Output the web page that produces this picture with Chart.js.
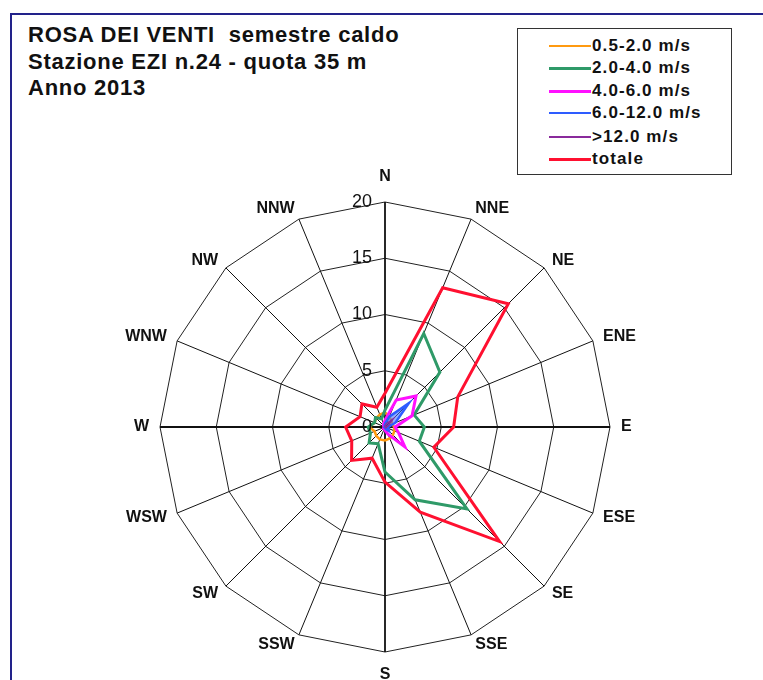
<!DOCTYPE html>
<html>
<head>
<meta charset="utf-8" />
<title>Rosa dei venti</title>
<script src="https://cdn.jsdelivr.net/npm/chart.js@4/dist/chart.umd.min.js"></script>
<style>
  body { margin: 0; background: #fff; font-family: "Liberation Sans", Arial, sans-serif; }
  #wrap { position: relative; width: 763px; height: 680px; overflow: hidden; }
  #frame { position: absolute; left: 10px; top: 13px; width: 800px; height: 720px; border: 2px solid #22228a; }
  #title { position: absolute; left: 28px; top: 22px; font-weight: bold; font-size: 22px; line-height: 26.7px; letter-spacing: 0.75px; color: #111; }
  #legend { position: absolute; left: 517px; top: 28px; width: 215px; height: 147px; border: 1.5px solid #333; box-sizing: border-box; }
  .row { position: absolute; left: 0; height: 22px; font-weight: bold; font-size: 17px; letter-spacing: 1.1px; color: #111; }
  .row span.ln { position: absolute; left: 31px; width: 42px; }
  .row span.tx { position: absolute; left: 74px; top: 0; white-space: nowrap; line-height: 22px; }
  canvas { position: absolute; left: 0; top: 0; }
</style>
</head>
<body>
<div id="wrap">
  <div id="frame"></div>
  <div id="title">ROSA DEI VENTI&nbsp; semestre caldo<br>Stazione EZI n.24 - quota 35 m<br>Anno 2013</div>
  <div id="legend"></div>
  <canvas id="rose" width="763" height="680"></canvas>
</div>
<script>
// directions, clockwise from north
const directions = ['N', 'NNE', 'NE', 'ENE', 'E', 'ESE', 'SE', 'SSE', 'S', 'SSW', 'SW', 'WSW', 'W', 'WNW', 'NW', 'NNW'];

// frequency (%) per speed class
const v05_2  = [1.3, 1.0, 0.8, 0.7, 0.8, 0.9, 1.0, 1.1, 1.2, 1.2, 1.1, 1.0, 1.4, 1.0, 1.1, 1.2];
const v2_4   = [1.5, 9.0, 6.9, 2.8, 3.5, 3.3, 10.3, 7.0, 4.0, 1.6, 2.0, 1.4, 1.5, 1.0, 1.2, 0.8];
const v4_6   = [0.6, 2.6, 3.9, 2.6, 0.9, 1.3, 2.5, 0.7, 0.3, 0.2, 0.2, 0.1, 0.1, 0.1, 0.2, 0.3];
const v6_12  = [0.3, 1.0, 3.0, 1.0, 0.3, 0.3, 0.5, 0.2, 0.1, 0.05, 0.05, 0, 0, 0, 0.05, 0.1];
const v12    = [0.1, 0.3, 1.0, 0.3, 0.1, 0.1, 0.1, 0, 0, 0, 0, 0, 0, 0, 0, 0];
const totale = [3.0, 13.4, 15.5, 7.0, 6.1, 4.7, 14.4, 8.2, 4.9, 3.0, 4.2, 3.2, 3.5, 2.4, 2.9, 1.9];

const radialTicks = [0, 5, 10, 15, 20];

const seriesNames  = ['0.5-2.0 m/s', '2.0-4.0 m/s', '4.0-6.0 m/s', '6.0-12.0 m/s', '>12.0 m/s', 'totale'];
const seriesData   = [v05_2, v2_4, v4_6, v6_12, v12, totale];
const seriesColors = ['#ff9a10', '#2f9a68', '#ff10ff', '#2e5cff', '#8a2a9c', '#ff1030'];
const seriesWidths = [2.5, 3, 3, 2.5, 1.5, 3];
const legendTops   = [6, 28, 51, 73, 97, 119];

// html legend
const legend = document.getElementById('legend');
seriesNames.forEach((name, i) => {
  const row = document.createElement('div');
  row.className = 'row';
  row.style.top = legendTops[i] + 'px';
  row.style.width = '212px';
  const ln = document.createElement('span');
  ln.className = 'ln';
  ln.style.background = seriesColors[i];
  ln.style.height = seriesWidths[i] + 'px';
  ln.style.top = (11 - seriesWidths[i] / 2) + 'px';
  const tx = document.createElement('span');
  tx.className = 'tx';
  tx.textContent = name;
  row.appendChild(ln);
  row.appendChild(tx);
  legend.appendChild(row);
});

// compass labels and radial tick labels drawn from the scale geometry
const roseText = {
  id: 'roseText',
  afterDraw(chart) {
    const scale = chart.scales.r;
    const ctx = chart.ctx;
    ctx.save();
    ctx.fillStyle = '#111';
    ctx.font = 'bold 16px "Liberation Sans", Arial, sans-serif';
    directions.forEach((d, i) => {
      const deg = i * 360 / directions.length;
      let gap = 11;
      if (deg === 0) gap = 17;
      if (deg === 180) gap = 15;
      const p = scale.getPointPosition(i, scale.drawingArea + gap);
      if (deg === 0) { ctx.textAlign = 'center'; ctx.textBaseline = 'bottom'; }
      else if (deg === 180) { ctx.textAlign = 'center'; ctx.textBaseline = 'top'; }
      else if (deg < 180) { ctx.textAlign = 'left'; ctx.textBaseline = 'middle'; }
      else { ctx.textAlign = 'right'; ctx.textBaseline = 'middle'; }
      ctx.fillText(d, p.x, p.y);
    });
    ctx.font = '18px "Liberation Sans", Arial, sans-serif';
    ctx.textAlign = 'right';
    ctx.textBaseline = 'middle';
    radialTicks.forEach(v => {
      const y = scale.yCenter - scale.getDistanceFromCenterForValue(v);
      ctx.fillText(String(v), scale.xCenter - 13, y);
    });
    ctx.restore();
  }
};

const datasets = seriesNames.map((name, i) => ({
  label: name,
  data: seriesData[i],
  borderColor: seriesColors[i],
  borderWidth: seriesWidths[i],
  backgroundColor: i === 3 ? 'rgba(60,110,255,0.55)' : 'transparent',
  fill: i === 3,
  pointRadius: 0,
  tension: 0,
  order: seriesNames.length - 1 - i
}));

new Chart(document.getElementById('rose'), {
  type: 'radar',
  data: { labels: directions, datasets: datasets },
  options: {
    responsive: false,
    animation: false,
    devicePixelRatio: 1,
    layout: { padding: { left: 160, right: 153, top: 202, bottom: 28 } },
    plugins: { legend: { display: false }, tooltip: { enabled: false } },
    scales: {
      r: {
        min: 0,
        max: 20,
        ticks: { stepSize: 5, display: false },
        pointLabels: { display: false },
        grid: { circular: false, color: '#222', lineWidth: 1 },
        angleLines: {
          color: '#111',
          lineWidth: ctx => (ctx.index % 4 === 0 ? 1.8 : 1)
        }
      }
    }
  },
  plugins: [roseText]
});
</script>
</body>
</html>
